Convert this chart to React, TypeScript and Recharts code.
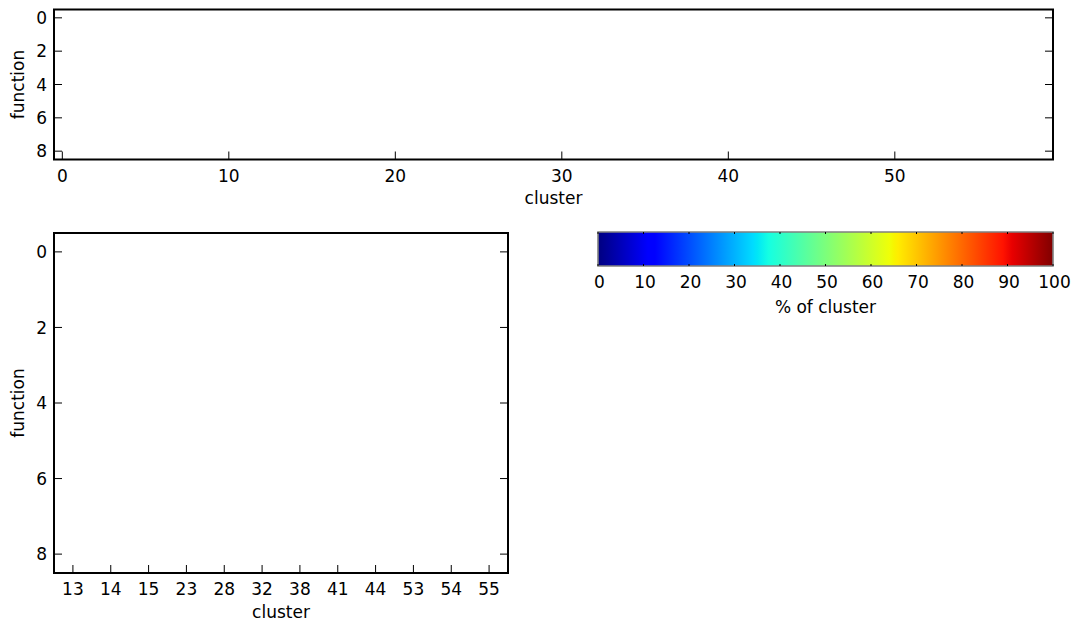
import React from "react";
import { ComposedChart, Scatter, XAxis, YAxis, ReferenceArea, Label } from "recharts";

// top grid: 60 clusters x 9 functions
const topXTicks = [0, 10, 20, 30, 40, 50];
const topYTicks = [0, 2, 4, 6, 8];
const topClusterCount = 60;
const functionCount = 9;

// bottom grid: selected clusters x 9 functions
const bottomClusters = ["13", "14", "15", "23", "28", "32", "38", "41", "44", "53", "54", "55"];
const bottomYTicks = [0, 2, 4, 6, 8];

// colorbar
const colorTicks = [0, 10, 20, 30, 40, 50, 60, 70, 80, 90, 100];

// painted cells; every cell in both grids is masked in the picture, so nothing shows
type Cell = { x: number; y: number; pct: number };
const topCells: Cell[] = [];
const bottomCells: Cell[] = [];

// jet colormap breakpoints
const jetOffsets = [0, 0.11, 0.125, 0.34, 0.35, 0.375, 0.64, 0.65, 0.66, 0.89, 0.91, 1];
const jetColors = [
  "#000080", "#0000ff", "#0000ff", "#00dbff", "#00e6f7", "#15ffe2",
  "#efff08", "#f7f500", "#ffec00", "#ff1300", "#e80000", "#800000",
];

const FONT = "'DejaVu Sans', sans-serif";
const FS = 17;
const TICK_LEN = 8;

function jet(p: number) {
  const t = Math.max(0, Math.min(1, p / 100));
  let i = 0;
  while (i < jetOffsets.length - 2 && t > jetOffsets[i + 1]) i++;
  return t < 0.5 ? jetColors[i] : jetColors[i + 1];
}

type Box = { left: number; top: number; right: number; bottom: number };

interface PanelProps {
  width: number;
  height: number;
  box: Box; // plot area insets
  xCount: number;
  xTicks: number[];
  xFormat?: (v: number) => string;
  yTicks: number[];
  cells: Cell[];
  xLabelY: number;
  yLabelX: number;
}

function HeatPanel({ width, height, box, xCount, xTicks, xFormat, yTicks, cells, xLabelY, yLabelX }: PanelProps) {
  const plotR = width - box.right;
  const plotB = height - box.bottom;
  const xDomain = [-0.5, xCount - 0.5];
  const yDomain = [-0.5, functionCount - 0.5];
  const txt = { fontFamily: FONT, fontSize: FS, fill: "#000" };
  const cx = (box.left + plotR) / 2;
  const cy = (box.top + plotB) / 2;
  // axes need 1px of room or recharts skips them
  const margin = { left: box.left - 1, right: box.right - 1, top: box.top - 1, bottom: box.bottom - 1 };

  // eslint-disable-next-line @typescript-eslint/no-explicit-any
  const bottomTick = (p: any) => (
    <g>
      <line x1={p.x} x2={p.x} y1={plotB} y2={plotB - TICK_LEN} stroke="#000" strokeWidth={1} />
      <text x={p.x} y={plotB + 22} textAnchor="middle" {...txt}>
        {xFormat ? xFormat(p.payload.value) : p.payload.value}
      </text>
    </g>
  );
  // eslint-disable-next-line @typescript-eslint/no-explicit-any
  const topTick = (p: any) => (
    <line x1={p.x} x2={p.x} y1={box.top} y2={box.top + TICK_LEN} stroke="#000" strokeWidth={1} />
  );
  // eslint-disable-next-line @typescript-eslint/no-explicit-any
  const leftTick = (p: any) => (
    <g>
      <line x1={box.left} x2={box.left + TICK_LEN} y1={p.y} y2={p.y} stroke="#000" strokeWidth={1} />
      <text x={box.left - 7} y={p.y} dy="0.37em" textAnchor="end" {...txt}>
        {p.payload.value}
      </text>
    </g>
  );
  // eslint-disable-next-line @typescript-eslint/no-explicit-any
  const rightTick = (p: any) => (
    <line x1={plotR} x2={plotR - TICK_LEN} y1={p.y} y2={p.y} stroke="#000" strokeWidth={1} />
  );

  return (
    <ComposedChart width={width} height={height} margin={margin}>
      <XAxis
        xAxisId="b"
        type="number"
        dataKey="x"
        domain={xDomain}
        ticks={xTicks}
        interval={0}
        allowDataOverflow
        height={1}
        axisLine={false}
        tickLine={false}
        tick={bottomTick}
      >
        <Label
          content={() => (
            <text x={cx} y={xLabelY} textAnchor="middle" {...txt}>
              cluster
            </text>
          )}
        />
      </XAxis>
      <XAxis
        xAxisId="t"
        orientation="top"
        type="number"
        domain={xDomain}
        ticks={xTicks}
        interval={0}
        allowDataOverflow
        height={1}
        axisLine={false}
        tickLine={false}
        tick={topTick}
      />
      <YAxis
        yAxisId="l"
        type="number"
        dataKey="y"
        domain={yDomain}
        reversed
        ticks={yTicks}
        interval={0}
        allowDataOverflow
        width={1}
        axisLine={false}
        tickLine={false}
        tick={leftTick}
      >
        <Label
          content={() => (
            <text
              x={yLabelX}
              y={cy}
              textAnchor="middle"
              transform={`rotate(-90 ${yLabelX} ${cy})`}
              {...txt}
            >
              function
            </text>
          )}
        />
      </YAxis>
      <YAxis
        yAxisId="r"
        orientation="right"
        type="number"
        domain={yDomain}
        reversed
        ticks={yTicks}
        interval={0}
        allowDataOverflow
        width={1}
        axisLine={false}
        tickLine={false}
        tick={rightTick}
      />
      <Scatter
        xAxisId="b"
        yAxisId="l"
        data={cells}
        isAnimationActive={false}
        // eslint-disable-next-line @typescript-eslint/no-explicit-any
        shape={(p: any) => {
          const s = (plotR - box.left) / xCount;
          return <rect x={p.cx - s / 2} y={p.cy - s / 2} width={s} height={s} fill={jet(p.payload.pct)} />;
        }}
      />
      <Scatter xAxisId="t" yAxisId="r" data={[]} isAnimationActive={false} />
      <ReferenceArea
        xAxisId="b"
        yAxisId="l"
        x1={xDomain[0]}
        x2={xDomain[1]}
        y1={yDomain[0]}
        y2={yDomain[1]}
        fill="none"
        fillOpacity={0}
        stroke="#000"
        strokeWidth={2}
        ifOverflow="visible"
      />
    </ComposedChart>
  );
}

function ColorBar() {
  const width = 515;
  const height = 130;
  const box = { left: 38, right: 22, top: 32, bottom: 64 };
  const barB = height - box.bottom;
  const txt = { fontFamily: FONT, fontSize: FS, fill: "#000" };
  const cx = (box.left + width - box.right) / 2;
  return (
    <ComposedChart width={width} height={height} margin={{ ...box, bottom: box.bottom - 1 }}>
      <defs>
        <linearGradient id="jetGrad" x1="0" y1="0" x2="1" y2="0">
          {jetOffsets.map((o, i) => (
            <stop key={i} offset={o} stopColor={jetColors[i]} />
          ))}
        </linearGradient>
      </defs>
      <XAxis
        type="number"
        dataKey="x"
        domain={[0, 100]}
        ticks={colorTicks}
        interval={0}
        allowDataOverflow
        height={1}
        axisLine={false}
        tickLine={false}
        // eslint-disable-next-line @typescript-eslint/no-explicit-any
        tick={(p: any) => (
          <g>
            <line x1={p.x} x2={p.x} y1={barB} y2={barB - 2} stroke="#000" />
            <line x1={p.x} x2={p.x} y1={box.top} y2={box.top + 2} stroke="#000" />
            <text x={p.x + 1.5} y={barB + 22} textAnchor="middle" {...txt}>
              {p.payload.value}
            </text>
          </g>
        )}
      >
        <Label
          content={() => (
            <text x={cx} y={barB + 47} textAnchor="middle" {...txt}>
              % of cluster
            </text>
          )}
        />
      </XAxis>
      <YAxis type="number" domain={[0, 1]} hide allowDataOverflow />
      <Scatter data={[]} isAnimationActive={false} />
      <ReferenceArea
        x1={0}
        x2={100}
        y1={0}
        y2={1}
        fill="url(#jetGrad)"
        fillOpacity={1}
        stroke="#808080"
        strokeWidth={1.6}
        ifOverflow="visible"
      />
    </ComposedChart>
  );
}

export default function App() {
  return (
    <div style={{ position: "absolute", left: 0, top: 0, width: 1075, height: 624, background: "#fff" }}>
      <div style={{ position: "absolute", left: 0, top: 0 }}>
        <HeatPanel
          width={1075}
          height={215}
          box={{ left: 54, top: 9.5, right: 22, bottom: 55.5 }}
          xCount={topClusterCount}
          xTicks={topXTicks}
          yTicks={topYTicks}
          cells={topCells}
          xLabelY={204}
          yLabelX={24}
        />
      </div>
      <div style={{ position: "absolute", left: 0, top: 200 }}>
        <HeatPanel
          width={540}
          height={424}
          box={{ left: 54, top: 33, right: 32, bottom: 51 }}
          xCount={bottomClusters.length}
          xTicks={bottomClusters.map((_, i) => i)}
          xFormat={(v) => bottomClusters[v]}
          yTicks={bottomYTicks}
          cells={bottomCells}
          xLabelY={418}
          yLabelX={24}
        />
      </div>
      <div style={{ position: "absolute", left: 560, top: 200 }}>
        <ColorBar />
      </div>
    </div>
  );
}
